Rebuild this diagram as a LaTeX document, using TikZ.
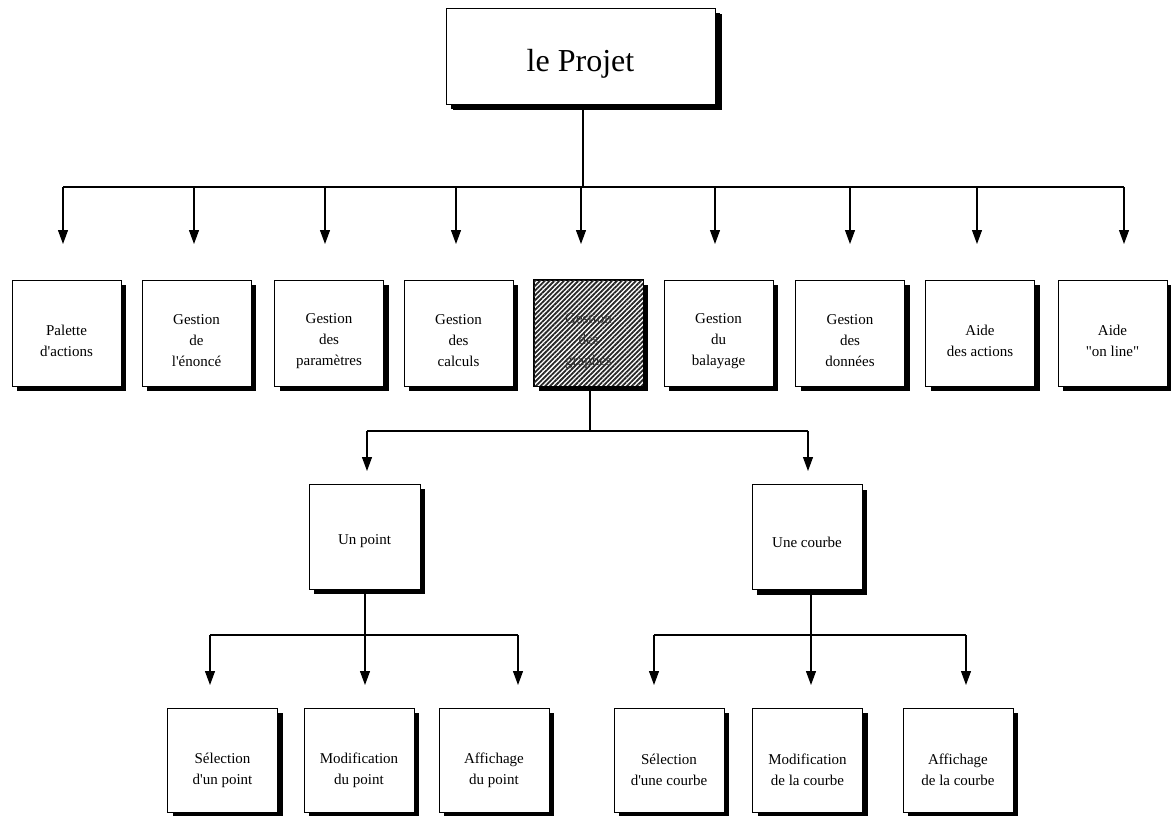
\documentclass[tikz,border=0pt]{standalone}
\usepackage{fontspec}
\setmainfont{Liberation Serif}
\usetikzlibrary{arrows.meta,shadows,patterns.meta}
\begin{document}
\begin{tikzpicture}[x=1pt,y=-1pt,
  box/.style={draw=black, line width=0.8pt, fill=white, inner sep=0pt,
    minimum width=109pt, minimum height=106pt,
    drop shadow={shadow xshift=5pt, shadow yshift=-5pt, fill=black, opacity=1}},
  bigbox/.style={box, minimum width=269pt, minimum height=96pt,
    drop shadow={shadow xshift=7pt, shadow yshift=-6pt, fill=black, opacity=1}},
  lbl/.style={align=center, font=\fontsize{15}{21}\selectfont, inner sep=0pt},
  conn/.style={line width=1.1pt},
  arr/.style={line width=1.1pt, -{Triangle[length=14pt,width=10pt]}},
]
\useasboundingbox (0,0) rectangle (1171,816);

% top
\node[bigbox] (top) at (580.5,56) {};
\node[font=\fontsize{32}{36}\selectfont, inner sep=0pt] (toplbl) at ([yshift=-8pt]top.center) {le Projet};

% level 1 boxes
\foreach \n/\x in {1/66.5,2/196.5,3/329,4/458.5,5/588.5,6/718.5,7/850,8/980,9/1112.5}
  \node[box] (b\n) at (\x,333) {};

\fill[pattern={Lines[angle=45,distance=3.4pt,line width=1.8pt]}, pattern color=black!85]
  (b5.south west) rectangle (b5.north east);
\draw[line width=0.8pt] (b5.south west) rectangle (b5.north east);

\node[lbl] (t1) at ([yshift=-8pt]b1.center) {Palette\\d\textquotesingle actions};
\node[lbl] (t2) at ([yshift=-8pt]b2.center) {Gestion\\de\\l\textquotesingle énoncé};
\node[lbl] (t3) at ([yshift=-8pt]b3.center) {Gestion\\des\\paramètres};
\node[lbl] (t4) at ([yshift=-8pt]b4.center) {Gestion\\des\\calculs};
\node[lbl, text=black!80] (t5) at ([yshift=-8pt]b5.center) {Gestion\\des\\graphes};
\node[lbl] (t6) at ([yshift=-8pt]b6.center) {Gestion\\du\\balayage};
\node[lbl] (t7) at ([yshift=-8pt]b7.center) {Gestion\\des\\données};
\node[lbl] (t8) at ([yshift=-8pt]b8.center) {Aide\\des actions};
\node[lbl] (t9) at ([yshift=-8pt]b9.center) {Aide\\\textquotedbl on line\textquotedbl};

% level 1 connectors
\coordinate (j0) at (583,187);
\draw[conn] (j0 |- top.south) -- (j0);
\foreach \n/\x in {1/63,2/194,3/325,4/456,5/581,6/715,7/850,8/977,9/1124}{
  \coordinate (s\n) at (\x,187);
  \coordinate (e\n) at (\x,244);
}
\draw[conn] (s1) -- (s9);
\foreach \n in {1,...,9}
  \draw[arr] (s\n) -- (e\n);

% level 2
\node[box, minimum width=111pt, minimum height=105pt] (p) at (364.5,536.5) {};
\node[box, minimum width=110pt, minimum height=105pt] (c) at (807,537) {};
\node[lbl] (tp) at ([yshift=-5pt]p.center) {Un point};
\node[lbl] (tc) at ([yshift=-5pt]c.center) {Une courbe};

\coordinate (j1) at (590,431);
\draw[conn] (j1 |- b5.south) -- (j1);
\coordinate (sp) at (367,431);
\coordinate (sc) at (808,431);
\draw[conn] (sp) -- (sc);
\draw[arr] (sp) -- (367,471);
\draw[arr] (sc) -- (808,471);

% level 3
\foreach \n/\x in {1/222.5,2/359,3/494,4/669,5/807.5,6/958}
  \node[box, minimum width=110pt, minimum height=104pt] (d\n) at (\x,760) {};
\node[lbl] (u1) at ([yshift=-10pt]d1.center) {Sélection\\d\textquotesingle un point};
\node[lbl] (u2) at ([yshift=-10pt]d2.center) {Modification\\du point};
\node[lbl] (u3) at ([yshift=-10pt]d3.center) {Affichage\\du point};
\node[lbl] (u4) at ([yshift=-10pt]d4.center) {Sélection\\d\textquotesingle une courbe};
\node[lbl] (u5) at ([yshift=-10pt]d5.center) {Modification\\de la courbe};
\node[lbl] (u6) at ([yshift=-10pt]d6.center) {Affichage\\de la courbe};

\coordinate (j2) at (365,635);
\coordinate (j3) at (811,635);
\draw[conn] (j2 |- p.south) -- (j2);
\draw[conn] (j3 |- c.south) -- (j3);
\foreach \n/\x in {1/210,2/365,3/518,4/654,5/811,6/966}{
  \coordinate (q\n) at (\x,635);
  \draw[arr] (q\n) -- (\x,685);
}
\draw[conn] (q1) -- (q3);
\draw[conn] (q4) -- (q6);
\end{tikzpicture}
\end{document}
